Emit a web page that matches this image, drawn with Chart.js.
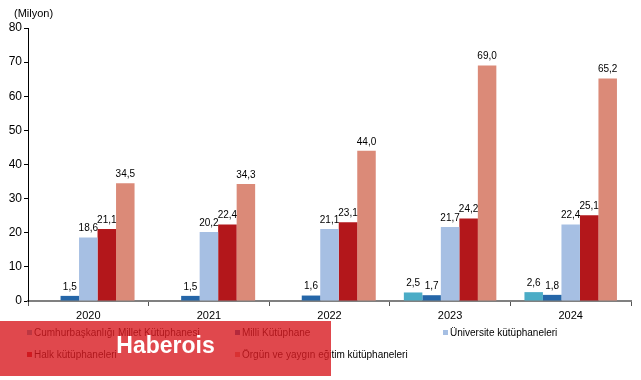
<!DOCTYPE html>
<html>
<head>
<meta charset="utf-8">
<script src="https://cdn.jsdelivr.net/npm/chart.js@4/dist/chart.umd.min.js"></script>
<style>
  html, body { margin: 0; padding: 0; background: #fff; }
  #wrap { position: relative; width: 641px; height: 380px; font-family: "Liberation Sans", Arial, sans-serif; }
  #unit { position: absolute; left: 14px; top: 7px; font-size: 11px; color: #000; }
  #legend { position: absolute; left: 0; top: 0; width: 641px; height: 380px; pointer-events: none; }
  .li { position: absolute; font-size: 10px; color: #000; white-space: nowrap; line-height: 12px; }
  .li span.m { display: inline-block; width: 5px; height: 5px; margin-right: 2px; vertical-align: 1px; }
  #wm { position: absolute; left: 0; top: 321px; width: 331px; height: 55px; background: rgba(216,26,33,0.8);
        color: #fff; font-weight: bold; font-size: 23px; text-align: center; line-height: 48px; }
</style>
</head>
<body>
<div id="wrap">
  <canvas id="c" width="641" height="380"></canvas>
  <div id="unit">(Milyon)</div>
  <div id="legend"></div>
  <div id="wm">Haberois</div>
</div>
<script>
const categories = ["2020", "2021", "2022", "2023", "2024"];
const seriesNames = [
  "Cumhurbaşkanlığı Millet Kütüphanesi",
  "Milli Kütüphane",
  "Üniversite kütüphaneleri",
  "Halk kütüphaneleri",
  "Örgün ve yaygın eğitim kütüphaneleri"
];
const cumhurbaskanligi = [null, null, null, 2.5, 2.6];
const milli = [1.5, 1.5, 1.6, 1.7, 1.8];
const universite = [18.6, 20.2, 21.1, 21.7, 22.4];
const halk = [21.1, 22.4, 23.1, 24.2, 25.1];
const orgun = [34.5, 34.3, 44.0, 69.0, 65.2];
const yTicks = [0, 10, 20, 30, 40, 50, 60, 70, 80];

const colors = ["#4bacc6", "#2566a8", "#a6bfe3", "#b3171b", "#db8a78"];
const seriesData = [cumhurbaskanligi, milli, universite, halk, orgun];

const datasets = seriesData.map((d, i) => ({
  label: seriesNames[i],
  data: d,
  backgroundColor: colors[i],
  borderWidth: 0,
  barPercentage: 1.0,
  categoryPercentage: 0.767
}));

const labelPlugin = {
  id: 'valueLabels',
  afterDatasetsDraw(chart) {
    const ctx = chart.ctx;
    ctx.save();
    ctx.font = '10px "Liberation Sans", Arial, sans-serif';
    ctx.fillStyle = '#000';
    ctx.textAlign = 'center';
    ctx.textBaseline = 'bottom';
    chart.data.datasets.forEach((ds, di) => {
      const meta = chart.getDatasetMeta(di);
      meta.data.forEach((el, i) => {
        const v = ds.data[i];
        if (v === null || v === undefined) return;
        ctx.fillText(v.toFixed(1).replace('.', ','), el.x, el.y - 4);
      });
    });
    ctx.restore();
  }
};

const chart = new Chart(document.getElementById('c'), {
  type: 'bar',
  data: { labels: categories, datasets },
  options: {
    responsive: false,
    animation: false,
    layout: { padding: { top: 28, right: 10, left: 0, bottom: 0 } },
    plugins: { legend: { display: false }, tooltip: { enabled: false } },
    scales: {
      x: {
        grid: { display: true, drawOnChartArea: false, drawTicks: true, tickLength: 5, color: '#555', offset: true },
        border: { display: true, color: '#808080', width: 2 },
        ticks: { color: '#000', font: { size: 11, family: '"Liberation Sans", Arial, sans-serif' }, padding: 3, maxRotation: 0 },
        afterFit(s) { s.height = 79; }
      },
      y: {
        min: 0, max: 80,
        afterBuildTicks(s) { s.ticks = yTicks.map(v => ({ value: v })); },
        grid: { display: true, drawOnChartArea: false, drawTicks: true, tickLength: 4, color: '#000' },
        border: { display: true, color: '#000', width: 1 },
        ticks: { color: '#000', font: { size: 12, family: '"Liberation Sans", Arial, sans-serif' }, padding: 2 },
        afterFit(s) { s.width = 28; }
      }
    }
  },
  plugins: [labelPlugin]
});

// legend built from the dataset names/colors
const legend = document.getElementById('legend');
const colX = [27, 235, 443];
const rowY = [327, 349];
seriesNames.forEach((name, i) => {
  const d = document.createElement('div');
  d.className = 'li';
  d.style.left = colX[i % 3] + 'px';
  d.style.top = rowY[Math.floor(i / 3)] + 'px';
  const m = document.createElement('span');
  m.className = 'm';
  m.style.background = colors[i];
  d.appendChild(m);
  d.appendChild(document.createTextNode(name));
  legend.appendChild(d);
});
</script>
</body>
</html>
